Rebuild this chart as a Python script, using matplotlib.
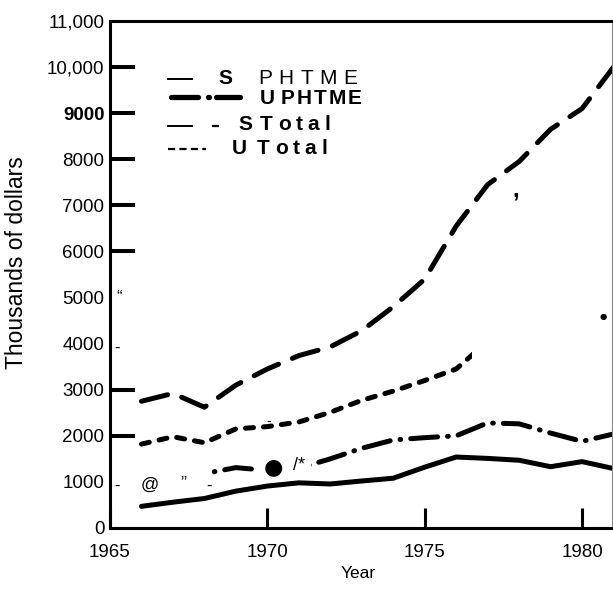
import matplotlib
matplotlib.use("Agg")
import matplotlib.pyplot as plt
from matplotlib.lines import Line2D
from matplotlib.patches import Rectangle

plt.rcParams['font.family'] = ['Liberation Sans', 'DejaVu Sans']
plt.rcParams['lines.scale_dashes'] = False

# ---- data (thousands of dollars) ----
years = list(range(1966, 1982))
s_phtme = [470, 560, 640, 800, 910, 980, 955, 1020, 1080, 1320, 1540, 1510, 1470, 1330, 1440, 1290]
s_total = [2750, 2920, 2620, 3100, 3450, 3740, 3930, 4280, 4800, 5400, 6550, 7450, 7950, 8650, 9100, 10000]

u_phtme_years = list(range(1968, 1982))
u_phtme = [1180, 1310, 1250, 1300, 1500, 1730, 1910, 1960, 2000, 2280, 2260, 2060, 1880, 2040]

u_total_years = list(range(1966, 1978))
u_total = [1820, 1980, 1850, 2150, 2200, 2300, 2510, 2770, 2970, 3200, 3450, 4050]

x_ticks = [1965, 1970, 1975, 1980]
y_ticks = list(range(0, 11001, 1000))
y_tick_labels = ['0', '1000', '2000', '3000', '4000', '5000', '6000', '7000',
                 '8000', '9000', '10,000', '11,000']
long_y_ticks = [2000, 3000, 6000, 7000, 8000, 9000, 10000]

W, H = 613, 595


def px(x, y):
    """pixel position (from top-left) -> figure fraction"""
    return x / W, 1 - y / H


fig = plt.figure(figsize=(W / 100, H / 100), dpi=100)
ax = fig.add_axes([110 / W, 1 - 528 / H, (612 - 110) / W, (528 - 21) / H])
ax.set_xlim(1965, 1965 + 502 / 31.47)
ax.set_ylim(0, 11000)

LW = 3.6
ax.plot(years, s_phtme, color='black', lw=LW, solid_capstyle='round',
        solid_joinstyle='round', zorder=3)
ax.plot(years, s_total, color='black', lw=LW, dashes=(19.4, 10.8),
        dash_capstyle='round', dash_joinstyle='round', zorder=3)
ax.plot(u_phtme_years, u_phtme, color='black', lw=LW,
        linestyle=(19.4, (19.4, 7.2, 0.5, 7.2)),
        dash_capstyle='round', dash_joinstyle='round', zorder=3)
ut_line, = ax.plot(u_total_years, u_total, color='black', lw=LW, dashes=(5.8, 7.2),
                   dash_capstyle='round', dash_joinstyle='round', zorder=3)
ut_line.set_clip_path(Rectangle((1965, 0), 1976.5 - 1965, 11000, transform=ax.transData))

# spines
for side in ('left', 'bottom', 'top'):
    ax.spines[side].set_linewidth(2.2)
    ax.spines[side].set_color('black')
ax.spines['right'].set_linewidth(0.8)
ax.spines['right'].set_color('#8a8a8a')

# ticks
ax.set_xticks(x_ticks)
ax.set_xticklabels([str(v) for v in x_ticks])
ax.tick_params(axis='x', direction='in', length=14.5, width=2.2, pad=11.5,
               labelsize=13.5, colors='black')
ax.set_yticks(y_ticks)
ax.set_yticklabels(y_tick_labels)
ax.tick_params(axis='y', which='major', length=0, pad=4, labelsize=13.5)
ax.yaxis.remove_overlapping_locs = False
ax.set_yticks(long_y_ticks, minor=True)
ax.tick_params(axis='y', which='minor', direction='in', length=18, width=2.9)
for lbl in ax.get_yticklabels():
    if lbl.get_text() == '9000':
        lbl.set_fontweight('bold')

ax.set_xlabel('Year', fontsize=12.5)
ax.set_ylabel('Thousands of dollars', fontsize=16.5)
ax.xaxis.set_label_coords(0.494, -0.074)
ax.yaxis.set_label_coords(-0.163, 0.523)

# masked stretch of the U PHTME curve
fig.add_artist(Rectangle(px(259, 478), 52 / W, 24 / H, transform=fig.transFigure,
                         facecolor='white', edgecolor='none', zorder=4))

# stray marks on the page
stray = [
    ('@', 150, 485, 13, 'normal'),
    ('\u201d', 183, 484, 13, 'normal'),
    ('-', 209, 486, 12, 'normal'),
    ('/*', 299, 466, 13, 'normal'),
    ('\u201c', 119, 297, 12, 'normal'),
    ('-', 117, 348, 12, 'normal'),
    ('-', 117, 486, 12, 'normal'),
    (',', 516, 190, 17, 'bold'),
    ('-', 269, 421, 10, 'normal'),
]
for s, x, y, size, wt in stray:
    fig.text(*px(x, y), s, fontsize=size, fontweight=wt, ha='center', va='center',
             zorder=5)
fig.text(*px(273, 467), '\u25cf', fontsize=16, ha='center', va='center',
         family='DejaVu Sans', zorder=5)
fig.text(*px(603, 317), '\u25cf', fontsize=6, ha='center', va='center',
         family='DejaVu Sans', zorder=5)

# ---- legend ----
renderer = fig.canvas.get_renderer()


def tracked(s, x, y, size, weight, track):
    cx = x
    for ch in s:
        t = fig.text(*px(cx, y), ch, fontsize=size, fontweight=weight,
                     ha='left', va='center')
        w = t.get_window_extent(renderer).width
        cx += w + track


def seg(x0, x1, y, lw, **kw):
    fig.add_artist(Line2D([x0 / W, x1 / W], [1 - y / H, 1 - y / H], color='black',
                          lw=lw, transform=fig.transFigure, **kw))


seg(168, 192, 79, 1.4)
tracked('S', 218, 78, 15, 'bold', 0)
tracked('PHTME', 258, 78, 15, 'normal', 6.5)

seg(170.5, 197.5, 97, 3.8, solid_capstyle='round')
seg(208.3, 208.6, 97, 3.8, solid_capstyle='round')
seg(215.5, 240.5, 97, 3.8, solid_capstyle='round')
tracked('U', 260, 98, 15, 'bold', 0)
tracked('PHTME', 281, 98, 15, 'bold', 2.0)

seg(168, 192, 126, 1.4)
seg(213, 218, 126, 1.6)
tracked('S', 238, 125, 15, 'bold', 0)
tracked('Total', 260, 125, 15, 'bold', 5)

fig.add_artist(Line2D([168 / W, 206 / W], [1 - 149 / H, 1 - 149 / H], color='black',
                      lw=1.6, dashes=(5.2, 3.0), transform=fig.transFigure))
tracked('U', 232, 148, 15, 'bold', 0)
tracked('Total', 257, 148, 15, 'bold', 5)

fig.savefig('out.png', dpi=100)
